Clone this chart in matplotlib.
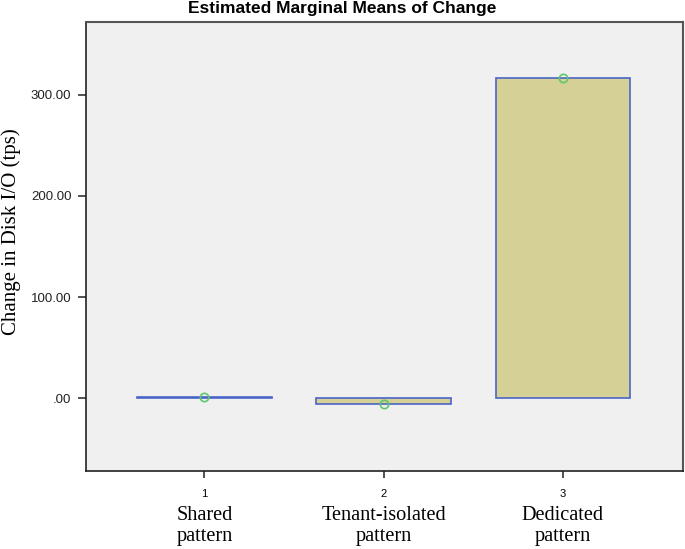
import matplotlib
matplotlib.use("Agg")
import matplotlib.pyplot as plt
from matplotlib.transforms import blended_transform_factory

categories = ["Shared\npattern", "Tenant-isolated\npattern", "Dedicated\npattern"]
positions = [1, 2, 3]
tick_labels = ["1", "2", "3"]
means = [1.0, -5.5, 317.0]
yticks = [0, 100, 200, 300]
ytick_labels = [".00", "100.00", "200.00", "300.00"]

fig = plt.figure(figsize=(6.85, 5.49), dpi=100)
ax = fig.add_axes([86 / 685, 1 - 471 / 549, (683 - 86) / 685, (471 - 22) / 549])
ax.set_facecolor("#f0f0f0")

ax.bar(positions, means, width=0.75, color="#d4d096", edgecolor="#4a64c8", linewidth=1.2, zorder=2)
ax.plot(positions, means, linestyle="none", marker="o", markersize=6,
        markerfacecolor="none", markeredgecolor="#5ec86a", markeredgewidth=1.2, zorder=3)

ax.set_xlim(0.34, 3.67)
ax.set_ylim(-72, 372)
ax.set_xticks(positions)
ax.set_xticklabels(tick_labels, fontsize=8, family="Liberation Sans")
ax.set_yticks(yticks)
ax.set_yticklabels(ytick_labels, fontsize=9.5, family="Liberation Sans", color="#222222")
ax.tick_params(axis="both", direction="out", width=1.2, color="#333333")
ax.tick_params(axis="x", length=5, pad=8)
ax.tick_params(axis="y", length=6, pad=4.5)
for s in ["top", "right"]:
    ax.spines[s].set_color("#555555")
    ax.spines[s].set_linewidth(1.5)
for s in ["left", "bottom"]:
    ax.spines[s].set_color("#222222")
    ax.spines[s].set_linewidth(1.2)

trans = blended_transform_factory(ax.transData, fig.transFigure)
for p, c in zip(positions, categories):
    ax.text(p, 1 - 526 / 549, c, transform=trans, ha="center", va="center",
            fontsize=14.6, family="Liberation Serif", linespacing=1.15)

ax.set_ylabel("Change in Disk I/O (tps)", fontsize=15, family="Liberation Serif",
              va="center", ha="center")
ax.yaxis.set_label_coords((11 - 86) / 597, (471 - 231.5) / 449)
fig.text(0.5, 1 - 9 / 549, "Estimated Marginal Means of Change", ha="center", va="center",
         fontsize=12.5, fontweight="bold", family="Liberation Sans")

fig.savefig("out.png", dpi=100)
